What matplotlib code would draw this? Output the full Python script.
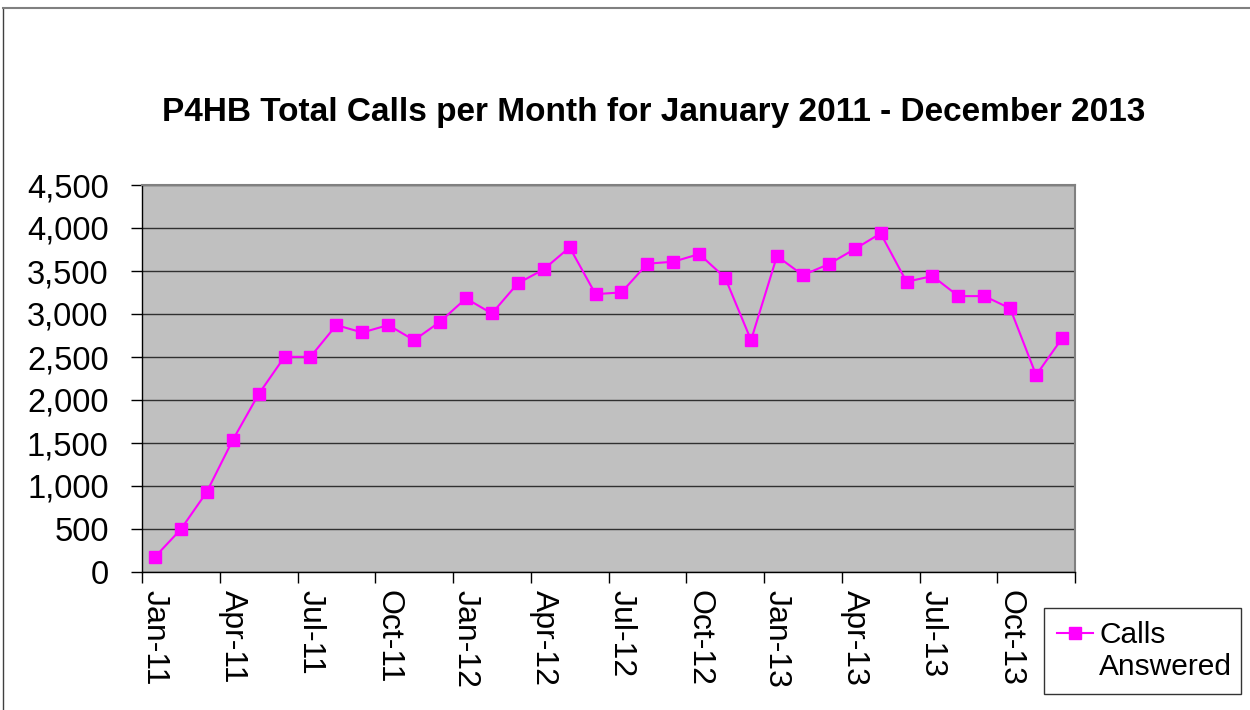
import matplotlib
matplotlib.use("Agg")
import matplotlib.pyplot as plt
from matplotlib.lines import Line2D
from matplotlib.ticker import FuncFormatter

plt.rcParams['font.family'] = ['Liberation Sans', 'DejaVu Sans']

months = ["Jan-11", "Feb-11", "Mar-11", "Apr-11", "May-11", "Jun-11",
          "Jul-11", "Aug-11", "Sep-11", "Oct-11", "Nov-11", "Dec-11",
          "Jan-12", "Feb-12", "Mar-12", "Apr-12", "May-12", "Jun-12",
          "Jul-12", "Aug-12", "Sep-12", "Oct-12", "Nov-12", "Dec-12",
          "Jan-13", "Feb-13", "Mar-13", "Apr-13", "May-13", "Jun-13",
          "Jul-13", "Aug-13", "Sep-13", "Oct-13", "Nov-13", "Dec-13"]
calls_answered = [175, 497, 931, 1533, 2068, 2502,
                  2502, 2871, 2785, 2871, 2696, 2910,
                  3181, 3006, 3356, 3519, 3775, 3231,
                  3251, 3585, 3608, 3697, 3422, 2696,
                  3673, 3452, 3580, 3755, 3937, 3375,
                  3441, 3208, 3208, 3065, 2289, 2716]
y_ticks = [0, 500, 1000, 1500, 2000, 2500, 3000, 3500, 4000, 4500]
title = "P4HB Total Calls per Month for January 2011 - December 2013"
series_name_lines = ["Calls", "Answered"]

W, H = 1250, 710
fig = plt.figure(figsize=(W / 100, H / 100), dpi=100)
fig.patch.set_facecolor("white")

# outer chart frame (top and left edges visible)
fig.add_artist(Line2D([3 / W, 3 / W], [0, 1 - 8 / H], transform=fig.transFigure,
                      color="#404040", lw=1.0))
fig.add_artist(Line2D([3 / W, 1], [1 - 8 / H, 1 - 8 / H], transform=fig.transFigure,
                      color="#808080", lw=1.5))

ax = fig.add_axes([142 / W, 1 - 572 / H, (1075 - 142) / W, (572 - 185) / H])
ax.set_facecolor("#C0C0C0")

x = list(range(len(months)))
line, = ax.plot(x, calls_answered, color="#FF00FF", lw=1.5, marker="s", markersize=8,
                markerfacecolor="#FF00FF", markeredgecolor="#FF00FF", zorder=3)

ax.set_xlim(-0.5, len(months) - 0.5)
ax.set_ylim(0, 4500)
ax.set_yticks(y_ticks)
ax.yaxis.set_major_formatter(FuncFormatter(lambda v, p: f"{int(v):,}"))
ax.yaxis.grid(True, color="#303030", lw=1.0)
ax.set_axisbelow(True)

# category boundaries every 3 months as major ticks, labels at centers
ax.set_xticks([i - 0.5 for i in range(0, len(months) + 1, 3)])
ax.set_xticklabels([])
ax.set_xticks(list(range(0, len(months), 3)), minor=True)
ax.set_xticklabels([months[i] for i in range(0, len(months), 3)], minor=True,
                   rotation=-90, fontsize=23)
ax.tick_params(axis="x", which="major", length=8, width=1, color="black", direction="out")
ax.tick_params(axis="x", which="minor", length=0, pad=13)
ax.tick_params(axis="y", length=8, width=1, color="black", direction="out",
               labelsize=23.5, pad=16)

for s in ["top", "right"]:
    ax.spines[s].set_color("#808080")
    ax.spines[s].set_linewidth(1.5)
for s in ["left", "bottom"]:
    ax.spines[s].set_color("black")
    ax.spines[s].set_linewidth(1.0)

fig.text(654 / W, 1 - 112 / H, title, ha="center", va="center",
         fontsize=24, fontweight="bold")

blank = Line2D([], [], color="none")
leg = fig.legend([line, blank], series_name_lines,
                 loc="lower left", bbox_to_anchor=(1044 / W, 16 / H, (1241 - 1044) / W, (694 - 605) / H),
                 mode="expand", fontsize=21.5, frameon=True, fancybox=False,
                 handlelength=1.2, handletextpad=0.2, borderpad=0.45, labelspacing=0.12,
                 borderaxespad=0)
leg.get_frame().set_edgecolor("black")
leg.get_frame().set_linewidth(1.0)

fig.savefig("out.png", dpi=100, facecolor="white")
